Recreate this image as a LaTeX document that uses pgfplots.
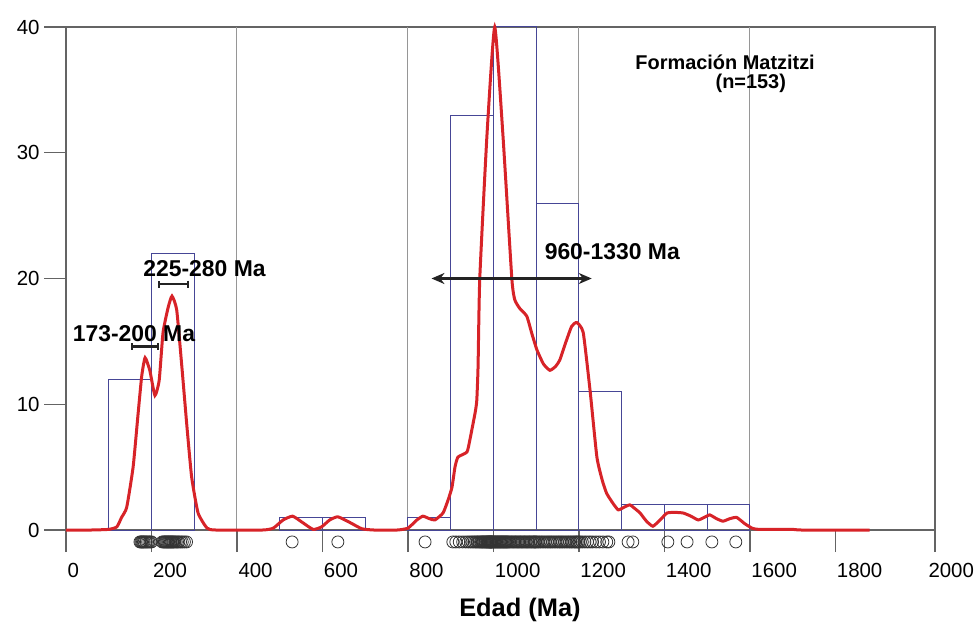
\documentclass[border=0pt]{standalone}
\usepackage{pgfplots}
\pgfplotsset{compat=1.18}
\usetikzlibrary{arrows.meta}
\usepackage{fontspec}
\setmainfont{Liberation Sans}
\definecolor{framegray}{RGB}{100,100,100}
\definecolor{gridgray}{RGB}{150,150,150}
\definecolor{barblue}{RGB}{70,70,150}
\definecolor{kdered}{RGB}{215,35,40}
\definecolor{annot}{RGB}{35,35,35}
\begin{document}
\begin{tikzpicture}
\useasboundingbox (-66bp,-93bp) rectangle (909bp,530bp);
\begin{axis}[
  scale only axis, width=869bp, height=503bp,
  xmin=0, xmax=2033, ymin=0, ymax=40,
  clip=false,
  axis line style={framegray, line width=1.2bp},
  tick style={framegray, line width=1.2bp},
  tick align=outside, major tick length=22bp,
  xtick={0,200,...,1800},
  extra x ticks={2033}, extra x tick labels={2000},
  extra x tick style={xticklabel style={xshift=-8bp, font=\fontsize{20.5}{24}\selectfont}},
  ytick={0,10,20,30,40},
  xtick pos=bottom, ytick pos=left,
  tick label style={font=\fontsize{20.5}{24}\selectfont, text=black},
  /pgf/number format/assume math mode=true,
  /pgf/number format/1000 sep={},
  xticklabel style={anchor=north west, xshift=-2bp, yshift=-8bp},
  yticklabel style={xshift=-1bp},
]
% vertical guide lines
\draw[gridgray, line width=1bp] (axis cs:400,0) -- (axis cs:400,40);
\draw[gridgray, line width=1bp] (axis cs:800,0) -- (axis cs:800,40);
\draw[gridgray, line width=1bp] (axis cs:1200,0) -- (axis cs:1200,40);
\draw[gridgray, line width=1bp] (axis cs:1600,0) -- (axis cs:1600,40);

% histogram (bin width 100 Ma)
\addplot[barblue, line width=1bp, ybar interval, fill=none] coordinates {(100,12) (200,22) (300,22)};
\addplot[barblue, line width=1bp, ybar interval, fill=none] coordinates {(500,1) (600,1) (700,1)};
\addplot[barblue, line width=1bp, ybar interval, fill=none] coordinates {(800,1) (900,33) (1000,40) (1100,26) (1200,11) (1300,2) (1400,2) (1500,2) (1600,2)};

% probability density curve
\addplot[kdered, line width=3bp, smooth, tension=0.3] table {
x y
0 0
60 0
100 0.05
119 0.25
130 1.0
142 1.8
157 5
168 9
177 12.2
185 13.7
196 12.7
208 10.7
218 11.9
227 15.7
239 17.7
248 18.6
259 17.5
271 13
283 8.2
294 4.2
309 1.35
330 0.15
350 0
460 0
485 0.15
508 0.8
530 1.1
551 0.65
578 0.05
598 0.25
617 0.8
636 1.05
664 0.6
692 0.1
720 0
775 0
800 0.15
821 0.8
835 1.1
850 0.9
863 0.8
882 1.35
894 2.4
903 3.4
910 5.0
917 5.8
938 6.2
945 7.2
957 9.3
961 10.3
964 13
968 20
985 31.5
1003 40
1022 31.5
1043 20
1050 18.3
1062 17.6
1078 17
1090 15.6
1102 14.3
1117 13.2
1132 12.7
1145 13
1155 13.5
1170 15
1183 16.2
1195 16.5
1210 15.7
1226 11.1
1242 5.8
1255 3.9
1265 2.9
1280 2.1
1292 1.6
1305 1.8
1319 2.0
1331 1.7
1343 1.35
1358 0.7
1373 0.3
1390 0.8
1406 1.35
1425 1.4
1444 1.35
1462 1.1
1479 0.8
1493 1.0
1506 1.2
1522 0.9
1537 0.7
1553 0.9
1569 1.0
1588 0.5
1605 0.15
1620 0.05
1700 0.05
1720 0
1880 0
};

% individual ages
\addplot[only marks, mark=o, mark size=6bp, mark options={line width=0.8bp, draw=black!80}] coordinates {
(173,-0.95) (175,-0.95) (177,-0.95) (179,-0.95) (181,-0.95) (183,-0.95) (186,-0.95) (188,-0.95) (191,-0.95) (194,-0.95) (197,-0.95) (200,-0.95)
(225,-0.95) (228,-0.95) (230,-0.95) (232,-0.95) (234,-0.95) (236,-0.95) (238,-0.95) (240,-0.95) (242,-0.95) (244,-0.95) (246,-0.95)
(248,-0.95) (250,-0.95) (252,-0.95) (255,-0.95) (258,-0.95) (261,-0.95) (264,-0.95) (268,-0.95) (272,-0.95) (277,-0.95) (282,-0.95)
(529,-0.95) (636,-0.95) (840,-0.95)
(905,-0.95) (912,-0.95) (920,-0.95) (928,-0.95) (935,-0.95) (941,-0.95) (946,-0.95) (950,-0.95) (954,-0.95) (958,-0.95)
(961,-0.95) (964,-0.95) (967,-0.95) (970,-0.95) (972,-0.95) (974,-0.95) (976,-0.95) (978,-0.95) (980,-0.95) (982,-0.95)
(984,-0.95) (985,-0.95) (987,-0.95) (988,-0.95) (990,-0.95) (991,-0.95) (992,-0.95) (993,-0.95) (994,-0.95) (995,-0.95)
(996,-0.95) (997,-0.95) (999,-0.95)
(1001,-0.95) (1003,-0.95) (1005,-0.95) (1007,-0.95) (1009,-0.95) (1011,-0.95) (1013,-0.95) (1015,-0.95) (1017,-0.95) (1019,-0.95)
(1021,-0.95) (1023,-0.95) (1025,-0.95) (1027,-0.95) (1029,-0.95) (1031,-0.95) (1033,-0.95) (1035,-0.95) (1038,-0.95) (1041,-0.95)
(1044,-0.95) (1047,-0.95) (1050,-0.95) (1053,-0.95) (1056,-0.95) (1059,-0.95) (1062,-0.95) (1065,-0.95) (1068,-0.95) (1071,-0.95)
(1074,-0.95) (1077,-0.95) (1080,-0.95) (1083,-0.95) (1086,-0.95) (1089,-0.95) (1092,-0.95) (1095,-0.95) (1097,-0.95) (1099,-0.95)
(1102,-0.95) (1106,-0.95) (1110,-0.95) (1114,-0.95) (1118,-0.95) (1122,-0.95) (1126,-0.95) (1130,-0.95) (1134,-0.95) (1138,-0.95)
(1142,-0.95) (1146,-0.95) (1150,-0.95) (1154,-0.95) (1158,-0.95) (1162,-0.95) (1166,-0.95) (1170,-0.95) (1174,-0.95) (1178,-0.95)
(1182,-0.95) (1186,-0.95) (1190,-0.95) (1193,-0.95) (1196,-0.95) (1199,-0.95)
(1203,-0.95) (1208,-0.95) (1214,-0.95) (1220,-0.95) (1226,-0.95) (1232,-0.95) (1240,-0.95) (1248,-0.95) (1256,-0.95) (1265,-0.95) (1270,-0.95)
(1315,-0.95) (1326,-0.95) (1408,-0.95) (1453,-0.95) (1511,-0.95) (1567,-0.95)
};

% annotations
\draw[annot, line width=2.2bp, {Bar[width=7bp]}-{Bar[width=7bp]}] (axis cs:151,14.6) -- (axis cs:218,14.6);
\draw[annot, line width=2.2bp, {Bar[width=7bp]}-{Bar[width=7bp]}] (axis cs:214.5,19.56) -- (axis cs:287.7,19.56);
\draw[annot, line width=2.2bp, {Stealth[length=13bp,width=11bp]}-{Stealth[length=13bp,width=11bp]}] (axis cs:855,20) -- (axis cs:1230,20);
\node[font=\bfseries\fontsize{23}{26}\selectfont] at (axis cs:159,15.6) {173-200 Ma};
\node[font=\bfseries\fontsize{23}{26}\selectfont] at (axis cs:324,20.8) {225-280 Ma};
\node[font=\bfseries\fontsize{23}{26}\selectfont] at (axis cs:1278,22.1) {960-1330 Ma};
\node[font=\bfseries\fontsize{20}{22}\selectfont] at (axis cs:1542,37.2) {Formación Matzitzi};
\node[font=\bfseries\fontsize{20}{22}\selectfont] at (axis cs:1602,35.5) {(n=153)};
\node[font=\bfseries\fontsize{25.5}{28}\selectfont] at (axis cs:1062,-6.36) {Edad (Ma)};
\end{axis}
\end{tikzpicture}
\end{document}
